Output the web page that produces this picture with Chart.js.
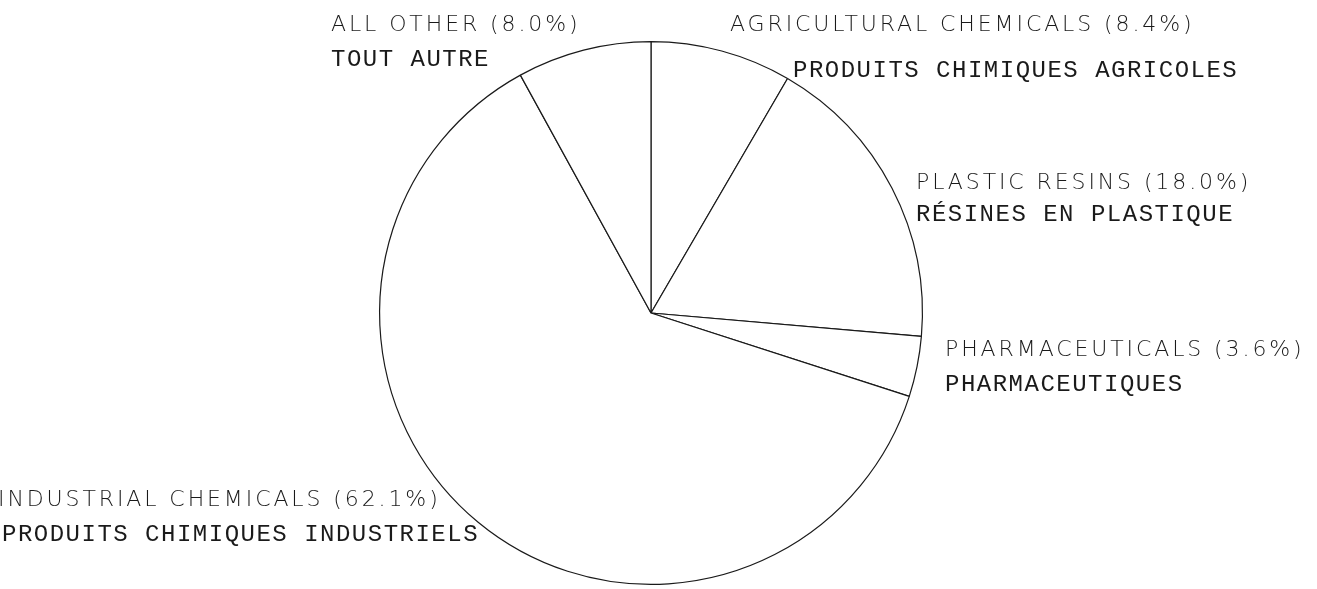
<!DOCTYPE html>
<html>
<head>
<meta charset="utf-8">
<script src="https://cdn.jsdelivr.net/npm/chart.js@4/dist/chart.umd.min.js"></script>
<style>
    html, body { margin: 0; padding: 0; background: #fff; }
    #wrap { width: 1317px; height: 589px; }
</style>
</head>
<body>
<div id="wrap"><canvas id="grafico" width="1317" height="589"></canvas></div>
<script>
// slices clockwise from 12 o'clock
const categorias = ['AGRICULTURAL CHEMICALS', 'PLASTIC RESINS', 'PHARMACEUTICALS', 'INDUSTRIAL CHEMICALS', 'ALL OTHER'];
const categoriasFr = ['PRODUITS CHIMIQUES AGRICOLES', 'RÉSINES EN PLASTIQUE', 'PHARMACEUTIQUES', 'PRODUITS CHIMIQUES INDUSTRIELS', 'TOUT AUTRE'];
const percentuais = [8.4, 18.0, 3.6, 62.1, 8.0];

// label placement relative to pie centre: [dx1, dy1, dx2, dy2]
const posRotulos = [
    [79, -288, 142, -242],
    [265, -130, 265, -98],
    [294, 37, 294, 72],
    [-653, 187, -649, 222],
    [-320, -288, -320, -253]
];

const rotulosPlugin = {
    id: 'rotulos',
    afterDraw(chart) {
        const ctx = chart.ctx;
        const arco = chart.getDatasetMeta(0).data[0];
        const cx = arco.x, cy = arco.y;
        ctx.save();
        ctx.fillStyle = '#1a1a1a';
        ctx.textAlign = 'left';
        ctx.textBaseline = 'middle';
        categorias.forEach((nome, i) => {
            const p = posRotulos[i];
            ctx.font = '200 22px "DejaVu Sans", sans-serif';
            ctx.letterSpacing = '2.9px';
            ctx.fillText(`${nome} (${percentuais[i].toFixed(1)}%)`, cx + p[0], cy + p[1]);
            ctx.font = '24px "Liberation Mono", monospace';
            ctx.letterSpacing = '1.5px';
            ctx.fillText(categoriasFr[i], cx + p[2], cy + p[3]);
        });
        ctx.restore();
    }
};

new Chart(document.getElementById('grafico'), {
    type: 'pie',
    data: {
        labels: categorias,
        datasets: [{
            data: percentuais,
            backgroundColor: '#ffffff',
            borderColor: '#1a1a1a',
            borderWidth: 1.2,
            borderAlign: 'center'
        }]
    },
    options: {
        responsive: false,
        animation: false,
        layout: { padding: { top: 41, bottom: 4, left: 0, right: 15 } },
        plugins: {
            legend: { display: false },
            tooltip: { enabled: false }
        }
    },
    plugins: [rotulosPlugin]
});
</script>
</body>
</html>
